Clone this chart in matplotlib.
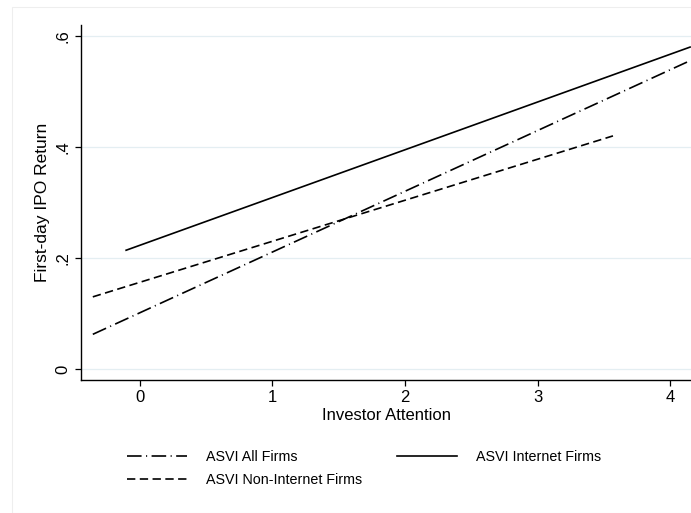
import matplotlib
matplotlib.use("Agg")
import matplotlib.pyplot as plt
from matplotlib.patches import Rectangle

plt.rcParams['font.family'] = ['Liberation Sans', 'DejaVu Sans']
plt.rcParams['lines.scale_dashes'] = False

# Fitted lines: endpoints (investor attention, first-day return)
all_x = [-0.353, 4.125]
all_y = [0.0625, 0.553]
internet_x = [-0.102, 4.148]
internet_y = [0.214, 0.580]
noninternet_x = [-0.353, 3.567]
noninternet_y = [0.130, 0.420]

labels = ["ASVI All Firms", "ASVI Internet Firms", "ASVI Non-Internet Firms"]
x_ticks = [0, 1, 2, 3, 4]
y_ticks = [0, 0.2, 0.4, 0.6]
y_tick_labels = ["0", ".2", ".4", ".6"]

W, H = 691, 513
fig = plt.figure(figsize=(W / 100, H / 100), dpi=100)
fig.patch.set_facecolor("white")

# faint outer graph-region frame
fig.patches.append(Rectangle((12 / W, 0), 1.2, 1 - 7 / H, transform=fig.transFigure,
                             fill=False, edgecolor="#eeeeee", linewidth=0.8))

ax = fig.add_axes([81 / W, 1 - 380 / H, 610 / W, 355 / H])
ax.set_xlim(-0.442, 4.155)
ax.set_ylim(-0.0198, 0.6198)

for y in y_ticks:
    ax.axhline(y, color="#e4eef2", linewidth=0.9, zorder=0)

lw = 1.2
l_all, = ax.plot(all_x, all_y, color="black", linewidth=lw,
                 dashes=(10.5, 3.2, 0.8, 3.2), label=labels[0])
l_int, = ax.plot(internet_x, internet_y, color="black", linewidth=lw,
                 linestyle="-", label=labels[1])
l_non, = ax.plot(noninternet_x, noninternet_y, color="black", linewidth=lw,
                 dashes=(6.0, 3.2), label=labels[2])

for s in ["top", "right"]:
    ax.spines[s].set_visible(False)
for s in ["left", "bottom"]:
    ax.spines[s].set_linewidth(1.0)
    ax.spines[s].set_color("black")

ax.set_xticks(x_ticks)
ax.set_xticklabels([str(v) for v in x_ticks])
ax.set_yticks(y_ticks)
ax.set_yticklabels(y_tick_labels, rotation=90, va="center")
ax.tick_params(axis="both", direction="out", length=4.5, width=0.9,
               labelsize=12, pad=3)
ax.tick_params(axis="y", pad=3)

ax.set_xlabel("Investor Attention", fontsize=12, labelpad=2)
ax.set_ylabel("First-day IPO Return", fontsize=12.5, labelpad=4)

leg = fig.legend([l_all, l_non, l_int], [labels[0], labels[2], labels[1]],
                 ncol=2, loc="upper left",
                 bbox_to_anchor=(127 / W, 1 - 450 / H),
                 frameon=False, fontsize=10.3, borderpad=0, borderaxespad=0,
                 handlelength=4.2, handletextpad=1.35, columnspacing=2.4,
                 labelspacing=0.6)

fig.savefig("out.png", dpi=100, facecolor="white")
